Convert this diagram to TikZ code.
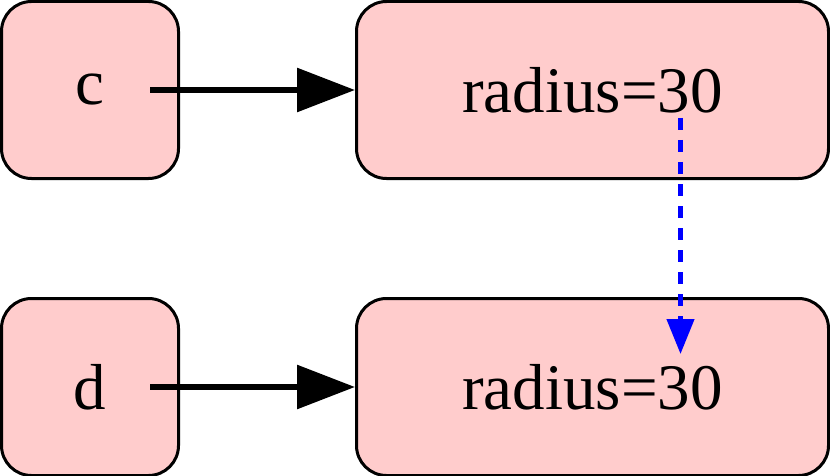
\documentclass[tikz,border=0pt]{standalone}
\usepackage{fontspec}
\setmainfont{Liberation Serif}
\usetikzlibrary{arrows.meta}
\usetikzlibrary{positioning}

\definecolor{boxpink}{HTML}{FFCCCC}

\begin{document}
\begin{tikzpicture}[
        font=\fontsize{65}{78}\selectfont,
        node distance=117pt and 175pt,
        block/.style={
            draw,
            fill=boxpink,
            line width=3pt,
            rounded corners=30pt,
            align=center,
            minimum width=177pt,
            minimum height=177pt,
            inner sep=4pt
        },
        wideblock/.style={
            block,
            minimum width=472pt
        },
        arrow/.style={-{Triangle[length=58pt,width=43pt]}, line width=6pt},
        link/.style={-{Triangle[length=35pt,width=27pt]}, line width=4.5pt, blue,
            dash pattern=on 12pt off 10pt}
    ]
        \useasboundingbox (0,0) rectangle (830pt,-476pt);

        \node[block] (c) at (90pt,-90pt) {c};
        \node[wideblock, right=of c] (rc) {radius=30};

        \node[block, below=of c] (d) {d};
        \node[wideblock, right=of d] (rd) {radius=30};

        \draw[arrow] ([xshift=-30pt]c.east) -- (rc.west);
        \draw[arrow] ([xshift=-30pt]d.east) -- (rd.west);
        \draw[link] ([xshift=88pt,yshift=-28pt]rc.center) -- ([xshift=88pt,yshift=33pt]rd.center);
    \end{tikzpicture}
\end{document}
